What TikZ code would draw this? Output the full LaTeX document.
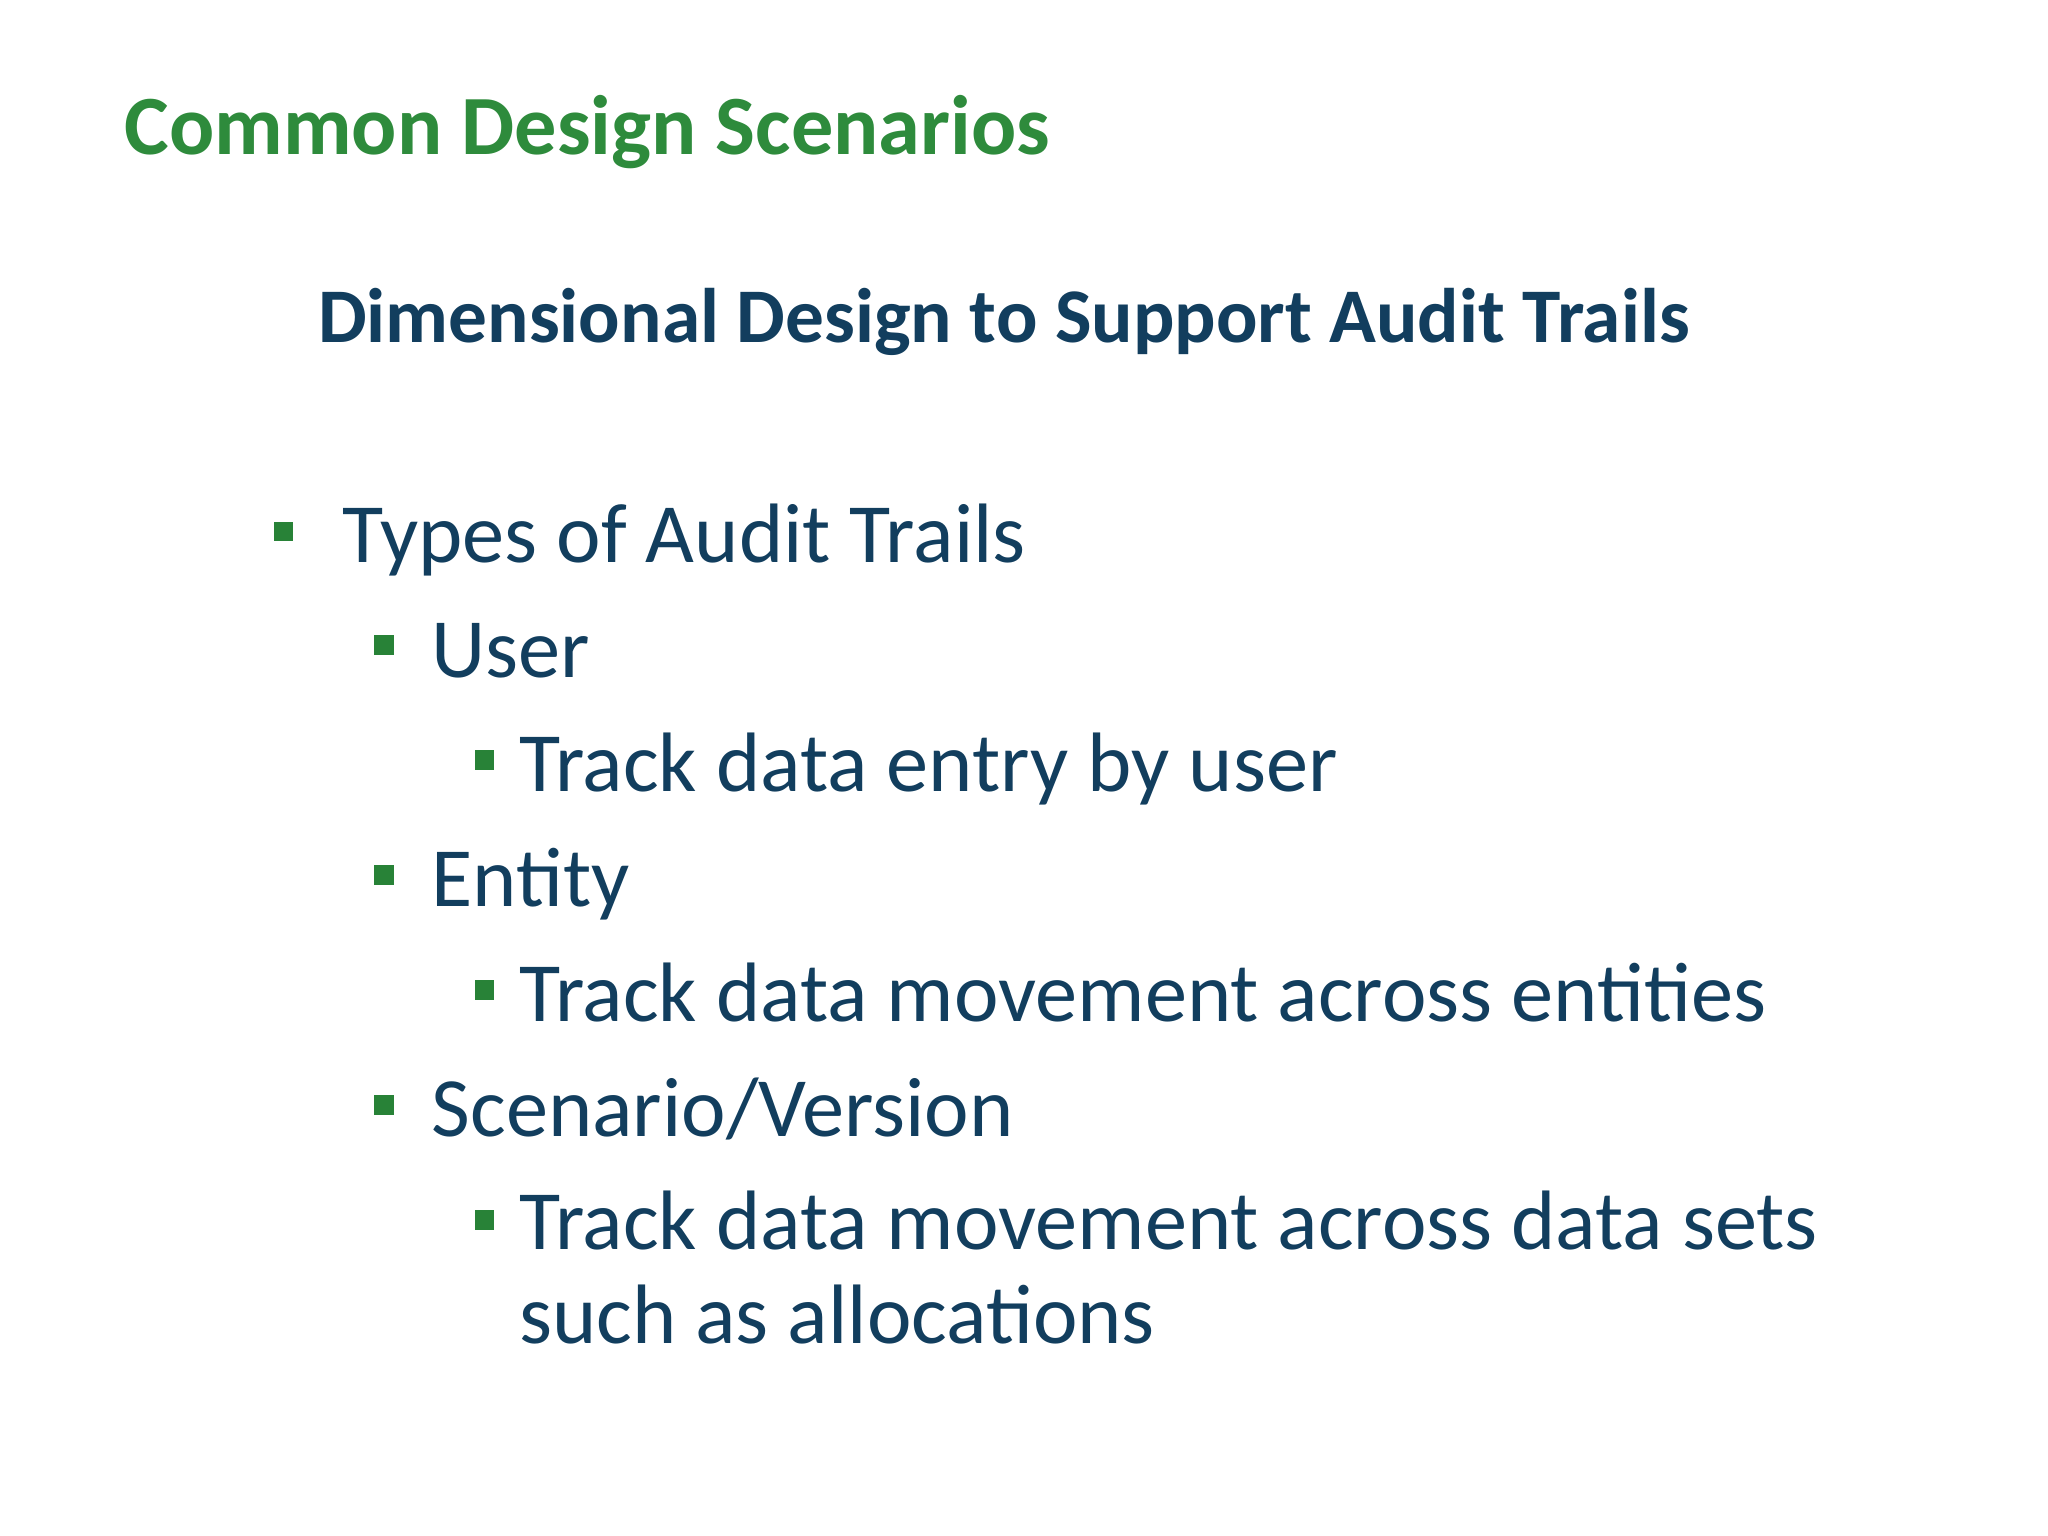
\documentclass[tikz,border=0pt]{standalone}
\usepackage{fontspec}
\setmainfont{Carlito}
\definecolor{tgreen}{RGB}{46,139,60}
\definecolor{tblue}{RGB}{18,62,94}
\definecolor{bgreen}{RGB}{40,130,55}
\begin{document}
\begin{tikzpicture}[x=0.01306cm,y=-0.01306cm,
  txt/.style={anchor=base west,inner sep=0pt,text=tblue,font=\fontsize{24}{28}\selectfont},
  sq/.style={fill=bgreen,draw=none,minimum size=5.6pt,inner sep=0pt}]
\useasboundingbox (0,0) rectangle (1568,1176);
\node[anchor=base west,inner sep=0pt,text=tgreen,font=\fontsize{24}{28}\selectfont\bfseries] (title) at (95,118) {Common Design Scenarios};
\node[anchor=base west,inner sep=0pt,text=tblue,font=\fontsize{22}{26}\selectfont\bfseries] (sub) at (243,262) {Dimensional Design to Support Audit Trails};
\node[txt] (t1) at (262,431) {Types of Audit Trails};
\node[sq] (b1) at (217,407) {};
\node[txt] (t2) at (330,519) {User};
\node[sq] (b2) at (294,494) {};
\node[txt] (t3) at (397,606) {Track data entry by user};
\node[sq] (b3) at (371,582) {};
\node[txt] (t4) at (330,694) {Entity};
\node[sq] (b4) at (294,670) {};
\node[txt] (t5) at (397,782) {Track data movement across entities};
\node[sq] (b5) at (371,758) {};
\node[txt] (t6) at (330,870) {Scenario/Version};
\node[sq] (b6) at (294,846) {};
\node[txt] (t7) at (397,957) {Track data movement across data sets};
\node[sq] (b7) at (371,934) {};
\node[txt] (t8) at (397,1029) {such as allocations};
\end{tikzpicture}
\end{document}
